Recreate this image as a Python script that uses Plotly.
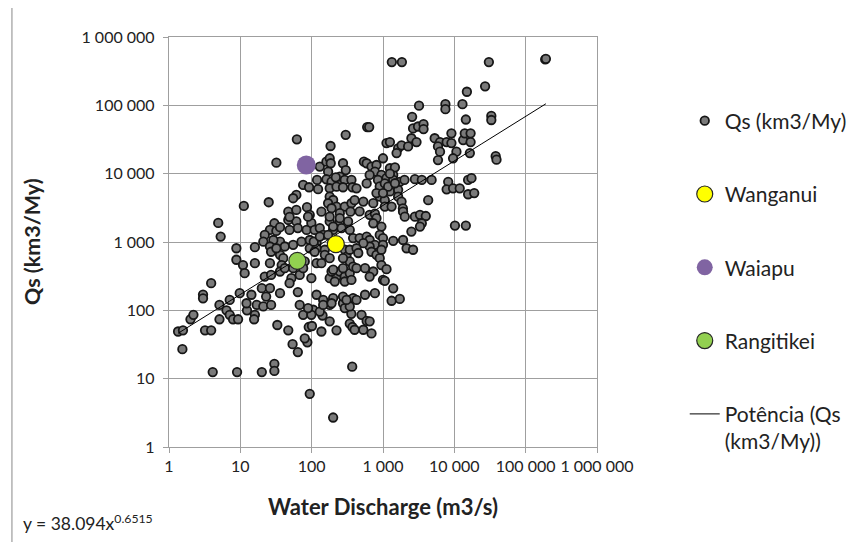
import numpy as np
import plotly.graph_objects as go

# ---- data ----
discharge = [
    # far left
    1.34, 1.57, 1.54, 2.0, 2.2, 3.2, 3.9, 5.1, 4.1, 4.9, 5.3, 3.9, 3.0, 3.0, 5.1, 6.4, 7.1,
    # low values
    9.0, 20, 30, 30, 54, 64, 87, 94, 200, 370,
    7.9, 9.3, 12.4, 16, 15.6, 33, 47, 76, 80, 91, 101, 105, 142, 137, 223, 360, 342, 373, 179, 130, 99,
    # central cloud
    30, 26, 22, 32, 36, 29, 21, 26, 42, 55, 72, 47, 61, 64, 49, 85, 99, 110, 130, 145, 94, 117, 94, 117,
    153, 179, 200, 248, 262, 324, 342, 291, 308, 342, 110, 153, 179, 27, 36, 40, 26, 38, 58, 80, 117, 137,
    36, 42, 55, 68, 52, 49, 99, 179, 223, 190, 248, 291, 342, 211, 291, 361, 64, 117, 145, 179, 275, 324,
    381, 291, 342, 36, 23, 68, 89,
    8.8, 16, 8.8, 10.9, 16, 11.5, 22, 27, 9.8, 14.3, 20, 12.2, 17, 21, 27, 7.1,
    76, 200, 275, 381, 275, 342, 381, 275, 308, 200, 145, 190, 107, 36, 130, 170, 200, 32, 26,
    # upper left cloud
    62, 300, 184, 32, 130, 161, 179, 185, 170, 275, 301, 248, 119, 161, 190, 218, 248, 291, 361, 76, 92,
    123, 179, 223, 275, 373, 61, 55, 11.2, 25, 179, 200, 170, 223, 291, 361, 47, 61, 86, 94, 137, 190,
    248, 350, 49, 89, 179, 248,
    # upper right cloud
    1330, 1840, 15000, 3200, 7500, 7500, 13000, 14500, 600, 640, 2560, 2640, 3100, 3700, 3700, 5300,
    6300, 7800, 9100, 9100, 5900, 6300, 5900, 13300, 14000, 16900, 16900, 10700, 9600, 16500, 1120, 1250,
    1630, 1820, 2250, 2500, 2950, 1550, 1000, 540, 590, 690, 810, 770, 650, 950, 1250, 1390, 1120, 425,
    590, 850, 900, 1060, 1390, 1720, 2000, 2800, 3500, 4800, 8200, 7800, 9600, 11900, 15600, 17400,
    15600, 19000, 400, 530, 730, 900, 1250, 1630, 1630, 1820, 810, 1060, 1060, 1320, 1900, 4300, 470,
    650, 770, 1910, 2020, 2800, 3300, 3980, 1470, 1250, 1180, 1470, 1000,
    # lower right cloud
    3500, 3300, 2500, 10200, 14500, 810, 730, 950, 470, 590, 650, 900, 1000, 770, 1000, 650, 530, 425,
    1390, 1910, 2140, 2640, 690, 810, 900, 950, 450, 425, 560, 730, 650, 950, 1120, 1000, 1060, 1390,
    770, 560, 425, 1320, 1720, 500, 590, 650, 530, 690, 400,
    # largest rivers
    30500, 188000, 192000, 27000, 33000, 33000, 38000, 39000,
]
qs = [
    49, 51, 27, 74, 86, 51, 51, 74, 12.5, 1900, 1200, 250, 170, 150, 120, 100, 86,
    12.5, 12.5, 16.5, 13, 32, 24.5, 34, 6, 2.7, 15,
    74, 74, 100, 86, 74, 61, 51, 86, 39, 57, 59, 102, 84, 49, 51, 89, 64, 57, 69, 96, 86,
    1880, 1500, 1270, 1450, 1010, 1070, 1010, 860, 860, 910, 1010, 2100, 2000, 1600, 1500, 1500, 1900,
    1500, 1600, 1270, 1070, 960, 810, 810,
    770, 2000, 1500, 2000, 1600, 2000, 1500, 770, 610, 520, 720, 650, 580, 720, 650, 580, 490, 460, 490,
    520, 490, 490,
    370, 414, 414, 330, 296, 250, 296, 296, 312, 370, 370, 312, 350, 264, 264, 279, 185, 169, 142, 120,
    127, 142,
    151, 108, 114, 178, 159, 120, 108,
    810, 840, 550, 460, 490, 350, 312, 330, 178, 169, 211, 127, 120, 114, 120, 142,
    414, 393, 414, 437, 579, 770, 1140, 159, 142, 151, 120, 127, 1010, 1650, 1200, 1270, 1680, 810, 211,
    31800, 37000, 25400, 14500, 12700, 15000, 16800, 14200, 10700, 14200, 11300, 9040, 8090, 8280, 7640,
    8850, 6840, 8090, 8090, 6840, 6330,
    5920, 6120, 6460, 6330, 6330, 4880, 4370, 3370, 3820, 4610, 4120, 3690, 3300, 3300, 3690, 2780, 2950,
    3230, 2490, 2780, 3120,
    2640, 2780, 2330, 2350, 2350, 2230,
    430000, 430000, 158000, 99000, 104000, 88000, 104000, 62000, 48000, 48000, 68000, 46000, 49000,
    53000, 45000, 33000,
    29000, 29000, 39000, 28000, 25000, 21000, 15800, 31000, 39000, 39000, 29000, 21000, 16800, 20000,
    28000, 29000,
    23500, 26000, 25000, 33000, 29000, 20000, 16800, 15000, 14200, 12700, 13400, 10700, 9600, 9600,
    12000, 9600, 8600, 6100,
    7200, 8100, 6500, 7200, 8100, 7600, 8100, 8300, 8100, 8100, 7600, 5900, 6100, 6100, 8100, 8600,
    5000, 5200, 4100, 3900, 3700, 4600, 5500, 5800, 4600, 3900, 5200, 4100, 3300, 3300, 3100, 4100, 2800,
    2500, 2600, 2780, 2350, 2350, 2500, 2400, 12400, 10000, 6460, 7240, 5200,
    1880, 1680, 1420, 1740, 1740, 2230, 1880, 1680, 1140, 1200, 1070, 1270, 1140, 910, 910, 860, 960, 810,
    1040, 1070, 810, 770, 720, 650, 580, 770, 690, 414, 414, 370, 312, 460, 400, 280, 270, 210,
    178, 169, 142, 138, 147, 86, 70, 69, 52, 46, 52,
    430000, 470000, 480000, 190000, 70000, 61000, 18000, 16000,
]
wanganui_x, wanganui_y = [218], [930]
waiapu_x, waiapu_y = [84], [13400]
rangitikei_x, rangitikei_y = [63], [530]

trend_coef = 38.094
trend_exp = 0.6515

tick_vals = [1, 10, 100, 1000, 10000, 100000, 1000000]
tick_text = ["1", "10", "100", "1 000", "10 000", "100 000", "1 000 000"]

FONT = "Lato"
GRID = "#9f9f9f"
TXT = "#222222"

fig = go.Figure()

fig.add_trace(go.Scatter(
    x=discharge, y=qs, mode="markers", name="Qs (km3/My)",
    marker=dict(size=8.5, color="#7a7a7a", line=dict(color="#161616", width=1.8)),
    legendgroup="g1", legendrank=1, hoverinfo="x+y",
))

xt = np.logspace(np.log10(min(discharge)), np.log10(max(discharge)), 200)
fig.add_trace(go.Scatter(
    x=xt, y=trend_coef * xt ** trend_exp, mode="lines",
    name="Potência (Qs<br>(km3/My))",
    line=dict(color="#000000", width=1),
    legendgroup="g5", legendrank=5, hoverinfo="skip",
))

fig.add_trace(go.Scatter(
    x=waiapu_x, y=waiapu_y, mode="markers", name="Waiapu",
    marker=dict(size=19, color="#8064A2", line=dict(color="#8064A2", width=0)),
    legendgroup="g3", legendrank=3,
))
fig.add_trace(go.Scatter(
    x=wanganui_x, y=wanganui_y, mode="markers", name="Wanganui",
    marker=dict(size=17, color="#FFFF00", line=dict(color="#262626", width=1.2)),
    legendgroup="g2", legendrank=2,
))
fig.add_trace(go.Scatter(
    x=rangitikei_x, y=rangitikei_y, mode="markers", name="Rangitikei",
    marker=dict(size=17, color="#92D050", line=dict(color="#262626", width=1.2)),
    legendgroup="g4", legendrank=4,
))

axis_common = dict(
    type="log", range=[0, 6],
    tickvals=tick_vals, ticktext=tick_text,
    showgrid=True, gridcolor=GRID, gridwidth=1.3,
    showline=True, linecolor=GRID, linewidth=1.3, mirror=True,
    ticks="outside", ticklen=5, tickcolor=GRID, tickwidth=1.3,
    tickfont=dict(family=FONT, size=16, color=TXT),
    zeroline=False,
)

fig.update_layout(
    width=865, height=542,
    margin=dict(l=161, r=276, t=29, b=103),
    paper_bgcolor="white", plot_bgcolor="white",
    xaxis=dict(**axis_common),
    yaxis=dict(**axis_common, ticklabelstandoff=5),
    showlegend=True,
    legend=dict(
        x=1.205, xanchor="left", y=0.845, yanchor="top",
        font=dict(family=FONT, size=21, color=TXT),
        tracegroupgap=43, itemsizing="trace", valign="top",
        bgcolor="rgba(0,0,0,0)",
    ),
    annotations=[
        dict(text="<b>Water Discharge (m3/s)</b>", xref="paper", yref="paper",
             x=0.5, y=-0.144, showarrow=False, xanchor="center", yanchor="middle",
             font=dict(family=FONT, size=22, color=TXT)),
        dict(text="<b>Qs (km3/My)</b>", xref="paper", yref="paper", textangle=-90,
             x=-0.320, y=0.5, showarrow=False, xanchor="center", yanchor="middle",
             font=dict(family=FONT, size=21.5, color=TXT)),
        dict(text="y = 38.094x<sup>0.6515</sup>", xref="paper", yref="paper",
             x=-0.345, y=-0.183, showarrow=False, xanchor="left", yanchor="middle",
             font=dict(family=FONT, size=17.5, color=TXT)),
    ],
    shapes=[
        dict(type="line", xref="paper", yref="paper", x0=-0.367, x1=-0.367, y0=-0.25, y1=1.1,
             line=dict(color="#b0b0b0", width=1.5)),
    ],
)

fig.write_html("out.html")
